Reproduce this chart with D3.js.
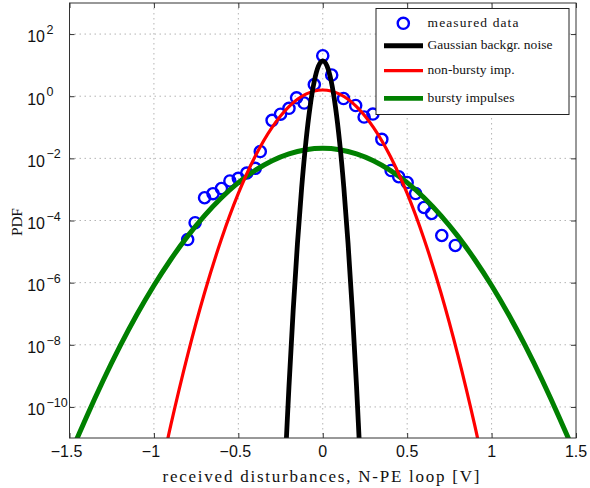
<!DOCTYPE html>
<html>
<head>
<meta charset="utf-8">
<script src="https://cdn.jsdelivr.net/npm/d3@7"></script>
<style>
  html, body { margin: 0; padding: 0; background: #fff; }
  svg { display: block; }
</style>
</head>
<body>
<svg id="chart" width="590" height="488"></svg>
<script>
// ---------------- data ----------------
const xTicks = [-1.5, -1, -0.5, 0, 0.5, 1, 1.5];
const xTickLabels = ["\u22121.5", "\u22121", "\u22120.5", "0", "0.5", "1", "1.5"];
const yTickExps = [-10, -8, -6, -4, -2, 0, 2];
const yTickLabels = ["\u221210", "\u22128", "\u22126", "\u22124", "\u22122", "0", "2"];

// measured data
const dataX = [-0.80, -0.756, -0.70, -0.65, -0.60, -0.55, -0.50, -0.45, -0.40, -0.37,
               -0.30, -0.25, -0.20, -0.155, -0.11, -0.05, 0.0, 0.053, 0.123, 0.195,
               0.245, 0.297, 0.35, 0.405, 0.45, 0.50, 0.55, 0.60, 0.645, 0.705, 0.785];
const dataY = [2.44e-5, 8.5e-5, 5.4e-4, 7.3e-4, 1.07e-3, 1.87e-3, 2.28e-3, 3.37e-3, 4.78e-3, 1.66e-2,
               0.1675, 0.264, 0.408, 0.889, 0.604, 2.38, 20.1, 4.81, 0.843, 0.502,
               0.214, 0.267, 0.041, 4.06e-3, 2.56e-3, 1.67e-3, 7.38e-4, 2.62e-4, 1.68e-4, 3.29e-5, 1.57e-5];

// Gaussian background noise
const gaussX = [-0.225, -0.2, -0.175, -0.15, -0.125, -0.1, -0.075, -0.05, -0.025, 0,
                0.025, 0.05, 0.075, 0.1, 0.125, 0.15, 0.175, 0.2, 0.225];
const gaussY = [7.7e-13, 4.66e-10, 1.33e-7, 1.78e-5, 1.12e-3, 3.33e-2, 0.465, 3.06, 9.47, 13.8,
                9.47, 3.06, 0.465, 3.33e-2, 1.12e-3, 1.78e-5, 1.33e-7, 4.66e-10, 7.7e-13];

// non-bursty impulses
const nonBurstX = [-1.0, -0.9, -0.8, -0.7, -0.6, -0.5, -0.4, -0.3, -0.2, -0.1, 0,
                   0.1, 0.2, 0.3, 0.4, 0.5, 0.6, 0.7, 0.8, 0.9, 1.0];
const nonBurstY = [7.6e-14, 2.58e-11, 4.73e-9, 4.71e-7, 2.54e-5, 7.41e-4, 1.172e-2, 0.100, 0.465, 1.166, 1.585,
                   1.166, 0.465, 0.100, 1.172e-2, 7.41e-4, 2.54e-5, 4.71e-7, 4.73e-9, 2.58e-11, 7.6e-14];

// bursty impulses
const burstX = [-1.6, -1.5, -1.4, -1.3, -1.2, -1.1, -1.0, -0.9, -0.8, -0.7, -0.6, -0.5, -0.4, -0.3, -0.2, -0.1, 0,
                0.1, 0.2, 0.3, 0.4, 0.5, 0.6, 0.7, 0.8, 0.9, 1.0, 1.1, 1.2, 1.3, 1.4, 1.5, 1.6];
const burstY = [6.0e-14, 2.44e-12, 4.66e-11, 7.24e-10, 9.2e-9, 9.55e-8, 8.07e-7, 5.57e-6, 3.14e-5, 1.44e-4, 5.41e-4, 1.66e-3, 4.13e-3, 8.43e-3, 1.40e-2, 1.90e-2, 2.104e-2,
                1.90e-2, 1.40e-2, 8.43e-3, 4.13e-3, 1.66e-3, 5.41e-4, 1.44e-4, 3.14e-5, 5.57e-6, 8.07e-7, 9.55e-8, 9.2e-9, 7.24e-10, 4.66e-11, 2.44e-12, 6.0e-14];

const legendLabels = ["measured data", "Gaussian backgr. noise", "non-bursty imp.", "bursty impulses"];

// ---------------- layout ----------------
const L = 69.5, R = 576, T = 3, B = 438;
const svg = d3.select("#chart");
const x = d3.scaleLinear().domain([-1.5, 1.5]).range([L, R]);
const y = d3.scaleLog().domain([1e-11, 1e3]).range([B, T]);

const sans = "'Liberation Sans', Arial, sans-serif";
const serif = "'Liberation Serif', 'Times New Roman', serif";

// clip
svg.append("defs").append("clipPath").attr("id", "plotclip")
  .append("rect").attr("x", L).attr("y", T).attr("width", R - L).attr("height", B - T);

// grid
const grid = svg.append("g");
grid.selectAll("line.gx").data(xTicks.slice(1, -1)).join("line")
  .attr("x1", d => x(d)).attr("x2", d => x(d)).attr("y1", T).attr("y2", B)
  .attr("stroke", "#b4b4b4").attr("stroke-width", 1).attr("stroke-dasharray", "1.5,3.5");
grid.selectAll("line.gy").data(yTickExps).join("line")
  .attr("x1", L).attr("x2", R).attr("y1", d => y(Math.pow(10, d))).attr("y2", d => y(Math.pow(10, d)))
  .attr("stroke", "#b4b4b4").attr("stroke-width", 1).attr("stroke-dasharray", "1.5,3.5");

// axes with inward ticks on all four sides
const tickLen = 5;
const axB = d3.axisBottom(x).tickValues(xTicks).tickSizeInner(-tickLen).tickSizeOuter(0).tickFormat("");
const axT = d3.axisTop(x).tickValues(xTicks).tickSizeInner(-tickLen).tickSizeOuter(0).tickFormat("");
const yVals = yTickExps.map(e => Math.pow(10, e));
const axL = d3.axisLeft(y).tickValues(yVals).tickSizeInner(-tickLen).tickSizeOuter(0).tickFormat("");
const axR = d3.axisRight(y).tickValues(yVals).tickSizeInner(-tickLen).tickSizeOuter(0).tickFormat("");
[[axB, `translate(0,${B})`], [axT, `translate(0,${T})`], [axL, `translate(${L},0)`], [axR, `translate(${R},0)`]]
  .forEach(([ax, tr]) => {
    const g = svg.append("g").attr("transform", tr).call(ax);
    g.select(".domain").remove();
    g.selectAll("line").attr("stroke", "#333");
  });

// x tick labels
svg.append("g").selectAll("text").data(xTicks).join("text")
  .attr("x", d => x(d) - (d < 0 ? 3 : 0)).attr("y", 457)
  .attr("text-anchor", "middle")
  .attr("font-family", sans).attr("font-size", 16).attr("fill", "#111")
  .text((d, i) => xTickLabels[i]);

// y tick labels 10^n
const yl = svg.append("g").selectAll("text").data(yTickExps).join("text")
  .attr("x", 45).attr("y", d => y(Math.pow(10, d)) + 8.3)
  .attr("font-family", sans).attr("font-size", 16).attr("fill", "#111");
yl.append("tspan").attr("text-anchor", "end").text("10");
yl.each(function(d, i) {
  d3.select(this).append("tspan").attr("x", 46.5).attr("dy", -8.3)
    .attr("font-size", 12.5).text(yTickLabels[i]);
});

// measured data circles
svg.append("g").attr("clip-path", "url(#plotclip)")
  .selectAll("circle").data(dataX).join("circle")
  .attr("cx", d => x(d)).attr("cy", (d, i) => y(dataY[i]))
  .attr("r", 5.6).attr("fill", "none").attr("stroke", "#0000ff").attr("stroke-width", 2.4);

// curves
const line = d3.line().x(d => x(d[0])).y(d => y(d[1])).curve(d3.curveCardinal.tension(0));
const curves = [
  { xs: burstX, ys: burstY, color: "#008000", w: 5 },
  { xs: nonBurstX, ys: nonBurstY, color: "#ff0000", w: 3.2 },
  { xs: gaussX, ys: gaussY, color: "#000000", w: 4.8 }
];
const cg = svg.append("g").attr("clip-path", "url(#plotclip)");
curves.forEach(c => {
  cg.append("path").datum(c.xs.map((v, i) => [v, c.ys[i]]))
    .attr("d", line).attr("fill", "none").attr("stroke", c.color)
    .attr("stroke-width", c.w).attr("stroke-linejoin", "round");
});

// frame
svg.append("rect").attr("x", L).attr("y", T).attr("width", R - L).attr("height", B - T)
  .attr("fill", "none").attr("stroke", "#333").attr("stroke-width", 1);

// axis labels
svg.append("text").attr("x", 321).attr("y", 482).attr("text-anchor", "middle")
  .attr("font-family", serif).attr("font-size", 17).attr("fill", "#111")
  .attr("textLength", 317).attr("lengthAdjust", "spacing")
  .text("received disturbances, N-PE loop [V]");
svg.append("text").attr("transform", "translate(21.5,222) rotate(-90)")
  .attr("text-anchor", "middle")
  .attr("font-family", serif).attr("font-size", 15.5).attr("fill", "#111")
  .attr("textLength", 28).attr("lengthAdjust", "spacing")
  .text("PDF");

// legend
const lg = svg.append("g");
lg.append("rect").attr("x", 376).attr("y", 8.5).attr("width", 193).attr("height", 106)
  .attr("fill", "#fff").attr("stroke", "#222").attr("stroke-width", 1);
const legRows = [
  { yy: 23.3, type: "circle", color: "#0000ff", w: 2.4, len: 91 },
  { yy: 45.7, type: "line", color: "#000000", w: 5, len: 125 },
  { yy: 70.7, type: "line", color: "#ff0000", w: 3.2, len: 87 },
  { yy: 98.3, type: "line", color: "#008000", w: 4.7, len: 87 }
];
legRows.forEach((r, i) => {
  if (r.type === "circle") {
    lg.append("circle").attr("cx", 403.3).attr("cy", r.yy).attr("r", 5.6)
      .attr("fill", "none").attr("stroke", r.color).attr("stroke-width", r.w);
  } else {
    lg.append("line").attr("x1", 384).attr("x2", 423).attr("y1", r.yy).attr("y2", r.yy)
      .attr("stroke", r.color).attr("stroke-width", r.w);
  }
  lg.append("text").attr("x", 427.5).attr("y", r.yy - 1.5).attr("dy", "0.35em")
    .attr("font-family", serif).attr("font-size", 13.5).attr("fill", "#111")
    .attr("textLength", r.len).attr("lengthAdjust", "spacing")
    .text(legendLabels[i]);
});
</script>
</body>
</html>
